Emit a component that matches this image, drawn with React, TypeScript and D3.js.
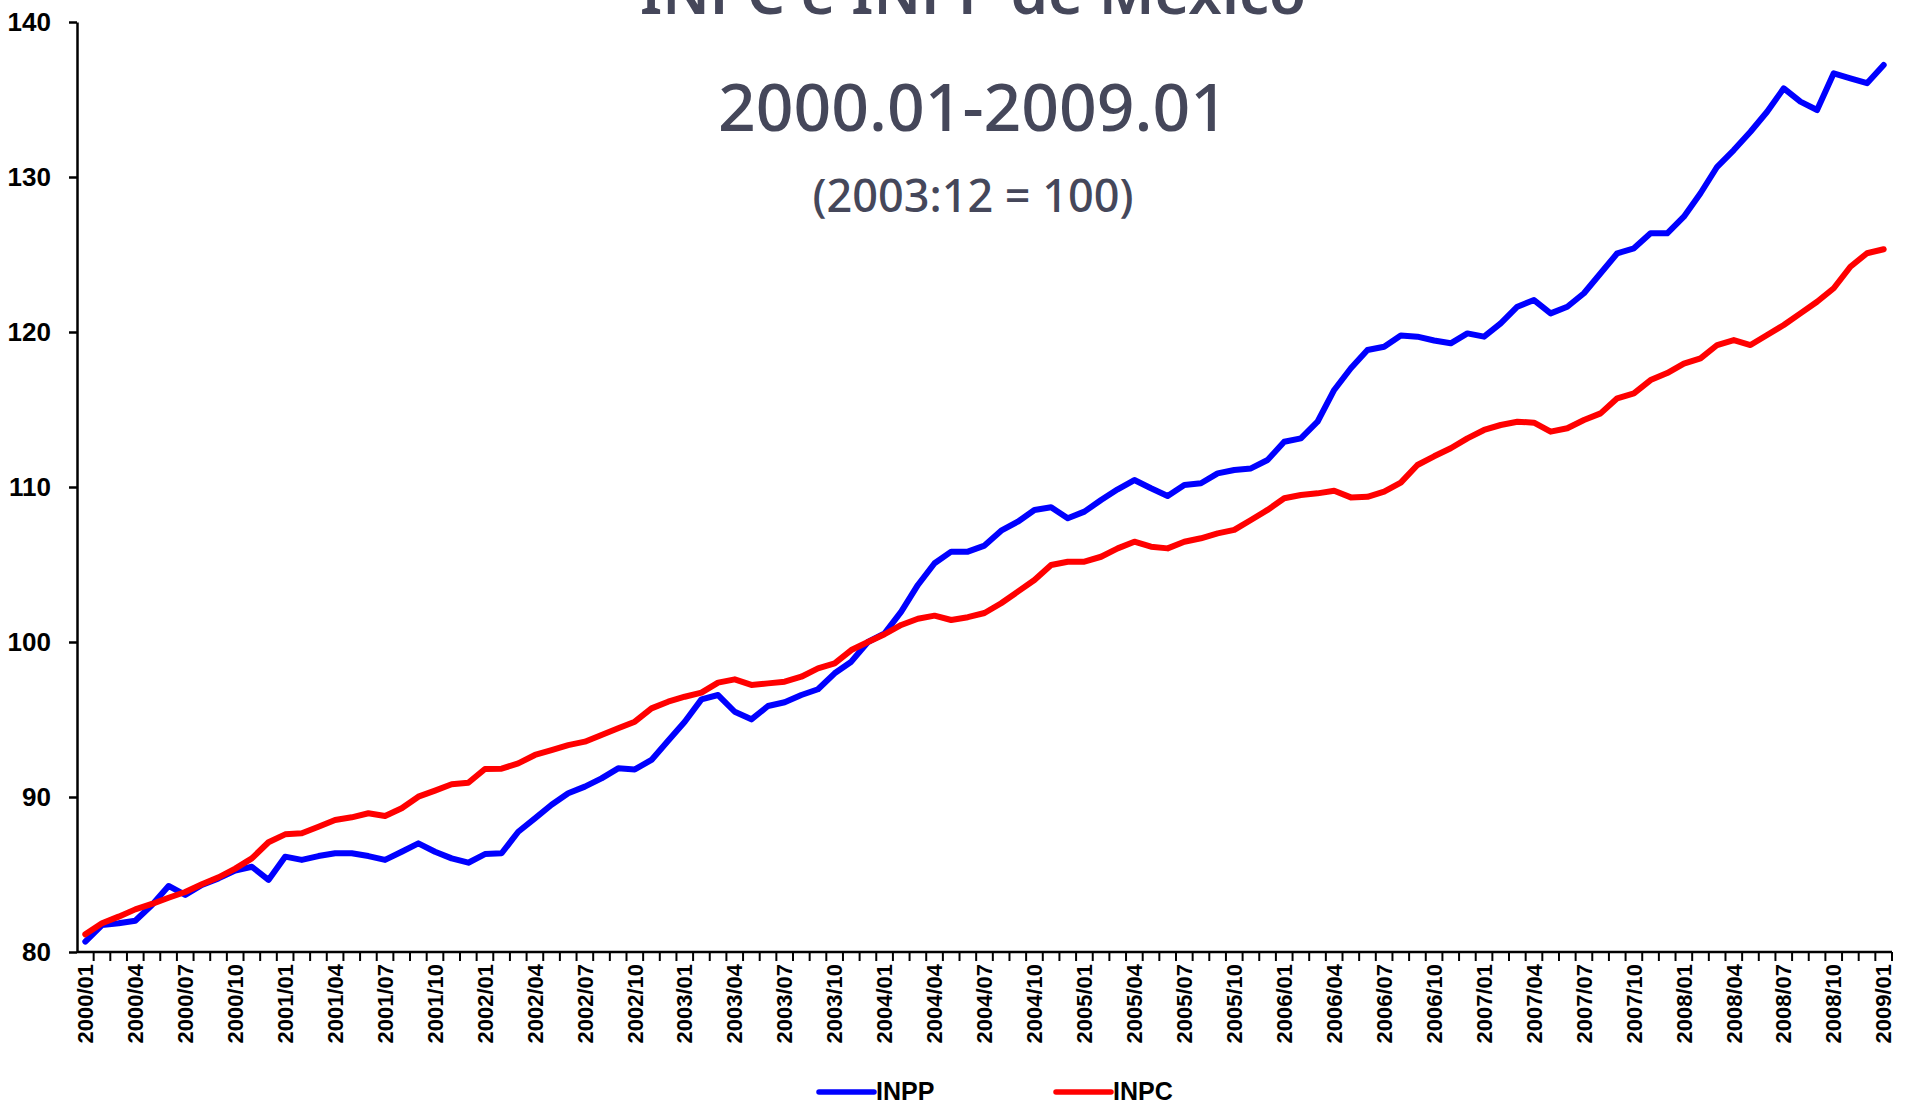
import React, { useEffect, useRef } from 'react';
import * as d3 from 'd3';

const title = 'INPC e INPP de México';
const subtitle = '2000.01-2009.01';
const baseNote = '(2003:12 = 100)';

// monthly categories, 2000/01 .. 2009/01
const months: string[] = [];
for (let yr = 2000; yr <= 2009; yr++) {
  for (let m = 1; m <= 12; m++) {
    if (yr === 2009 && m > 1) break;
    months.push(`${yr}/${String(m).padStart(2, '0')}`);
  }
}

// INPP
const inpp = [
  80.67, 81.74, 81.85, 82.02, 83.03, 84.26, 83.68, 84.32, 84.75, 85.25, 85.5, 84.65,
  86.15, 85.94, 86.19, 86.37, 86.37, 86.19, 85.94, 86.47, 87.01, 86.47, 86.04, 85.76,
  86.32, 86.37, 87.76, 88.62, 89.5, 90.24, 90.67, 91.2, 91.85, 91.78, 92.39, 93.63,
  94.86, 96.3, 96.58, 95.5, 95.01, 95.87, 96.11, 96.58, 96.95, 97.98, 98.73, 100.0,
  100.56, 101.96, 103.68, 105.08, 105.83, 105.83, 106.22, 107.18, 107.76, 108.52, 108.69, 107.98,
  108.41, 109.16, 109.85, 110.45, 109.92, 109.42, 110.13, 110.24, 110.88, 111.1, 111.2, 111.74,
  112.92, 113.14, 114.21, 116.26, 117.66, 118.84, 119.05, 119.78, 119.7, 119.45, 119.27, 119.91,
  119.7, 120.56, 121.63, 122.06, 121.2, 121.63, 122.5, 123.79, 125.08, 125.4, 126.37, 126.37,
  127.44, 128.95, 130.66, 131.74, 132.92, 134.21, 135.72, 134.86, 134.32, 136.69, 136.37, 136.05,
  137.23,
];

// INPC
const inpc = [
  81.14, 81.85, 82.28, 82.75, 83.1, 83.5, 83.87, 84.37, 84.82, 85.38, 86.04, 87.08,
  87.59, 87.66, 88.08, 88.52, 88.69, 88.95, 88.77, 89.27, 90.02, 90.41, 90.82, 90.92,
  91.81, 91.83, 92.17, 92.71, 93.03, 93.35, 93.57, 94.0, 94.43, 94.86, 95.72, 96.15,
  96.47, 96.73, 97.38, 97.59, 97.23, 97.33, 97.44, 97.76, 98.3, 98.62, 99.48, 100.0,
  100.5, 101.1, 101.5, 101.7, 101.42, 101.6, 101.87, 102.5, 103.25, 104.0, 104.97, 105.18,
  105.18, 105.5, 106.04, 106.47, 106.15, 106.04, 106.47, 106.69, 107.01, 107.23, 107.87, 108.52,
  109.27, 109.48, 109.59, 109.76, 109.33, 109.37, 109.7, 110.28, 111.42, 111.98, 112.5, 113.14,
  113.68, 114.0, 114.21, 114.15, 113.57, 113.79, 114.32, 114.75, 115.72, 116.04, 116.9, 117.35,
  117.96, 118.3, 119.16, 119.48, 119.16, 119.81, 120.45, 121.2, 121.95, 122.82, 124.21, 125.08,
  125.34,
];

const yTicks = [80, 90, 100, 110, 120, 130, 140];
const seriesNames = ['INPP', 'INPC'];
const seriesColors = ['#0000ff', '#ff0000'];

const W = 1914;
const H = 1105;
const titleColor = '#45475a';
const titleFont = '"Noto Sans", "Open Sans", sans-serif';
const axisFont = '"Liberation Sans Narrow", "Liberation Sans", Arial, sans-serif';

export default function App() {
  const svgRef = useRef<SVGSVGElement | null>(null);

  useEffect(() => {
    const svg = d3.select(svgRef.current);
    svg.selectAll('*').remove();

    const x = d3.scaleBand<string>().domain(months).range([77, 1892]);
    const y = d3.scaleLinear().domain([80, 140]).range([952, 22]);
    const cx = (i: number) => (x(months[i]) as number) + x.bandwidth() / 2;

    // titles (the first one is cut by the top edge, as in the original)
    const tg = svg.append('g').attr('fill', titleColor).attr('font-family', titleFont)
      .attr('text-anchor', 'middle');
    tg.append('text').attr('x', 973).attr('y', 14).attr('font-size', 60)
      .attr('font-weight', 600).text(title);
    tg.append('text').attr('x', 973).attr('y', 131).attr('font-size', 66)
      .attr('font-weight', 500).text(subtitle);
    tg.append('text').attr('x', 973).attr('y', 212).attr('font-size', 45)
      .attr('font-weight', 500).text(baseNote);

    // y axis
    const yAxis = svg.append('g')
      .attr('transform', 'translate(77,0)')
      .call(d3.axisLeft(y).tickValues(yTicks).tickSize(8).tickSizeOuter(0).tickPadding(18));
    yAxis.select('.domain').attr('stroke', '#000').attr('stroke-width', 2.5);
    yAxis.selectAll('.tick line').attr('stroke', '#000').attr('stroke-width', 2.5);
    yAxis.selectAll('.tick text')
      .attr('font-family', axisFont).attr('font-weight', 'bold').attr('font-size', 26)
      .attr('fill', '#000');

    // x axis
    const xg = svg.append('g');
    xg.append('line')
      .attr('x1', x.range()[0]).attr('x2', x.range()[1])
      .attr('y1', y(80)).attr('y2', y(80))
      .attr('stroke', '#000').attr('stroke-width', 2.5);
    xg.selectAll('.xtick')
      .data(d3.range(1, months.length + 1))
      .enter()
      .append('line')
      .attr('class', 'xtick')
      .attr('x1', k => x.range()[0] + k * x.step())
      .attr('x2', k => x.range()[0] + k * x.step())
      .attr('y1', y(80))
      .attr('y2', y(80) + 9)
      .attr('stroke', '#000')
      .attr('stroke-width', 2);
    xg.selectAll('.xlabel')
      .data(months.filter((_, i) => i % 3 === 0))
      .enter()
      .append('text')
      .attr('class', 'xlabel')
      .attr('transform', d => `translate(${(x(d) as number) + x.bandwidth() / 2},964) rotate(-90)`)
      .attr('dy', '0.35em')
      .attr('text-anchor', 'end')
      .attr('font-family', axisFont)
      .attr('font-weight', 'bold')
      .attr('font-size', 22)
      .text(d => d);

    // series lines
    const line = d3.line<number>().x((_, i) => cx(i)).y(d => y(d));
    [inpp, inpc].forEach((vals, s) => {
      svg.append('path')
        .datum(vals)
        .attr('d', line)
        .attr('fill', 'none')
        .attr('stroke', seriesColors[s])
        .attr('stroke-width', 6)
        .attr('stroke-linejoin', 'round')
        .attr('stroke-linecap', 'round');
    });

    // legend
    const legendX = [819, 1056];
    const lg = svg.append('g');
    seriesNames.forEach((name, s) => {
      lg.append('line')
        .attr('x1', legendX[s]).attr('x2', legendX[s] + 55)
        .attr('y1', 1092).attr('y2', 1092)
        .attr('stroke', seriesColors[s]).attr('stroke-width', 5.5)
        .attr('stroke-linecap', 'round');
      lg.append('text')
        .attr('x', legendX[s] + 57).attr('y', 1100)
        .attr('font-family', '"Liberation Sans", Arial, sans-serif')
        .attr('font-weight', 'bold').attr('font-size', 25)
        .text(name);
    });
  }, []);

  return (
    <svg
      ref={svgRef}
      width={W}
      height={H}
      viewBox={`0 0 ${W} ${H}`}
      style={{ position: 'fixed', left: 0, top: 0, background: '#fff' }}
    />
  );
}
